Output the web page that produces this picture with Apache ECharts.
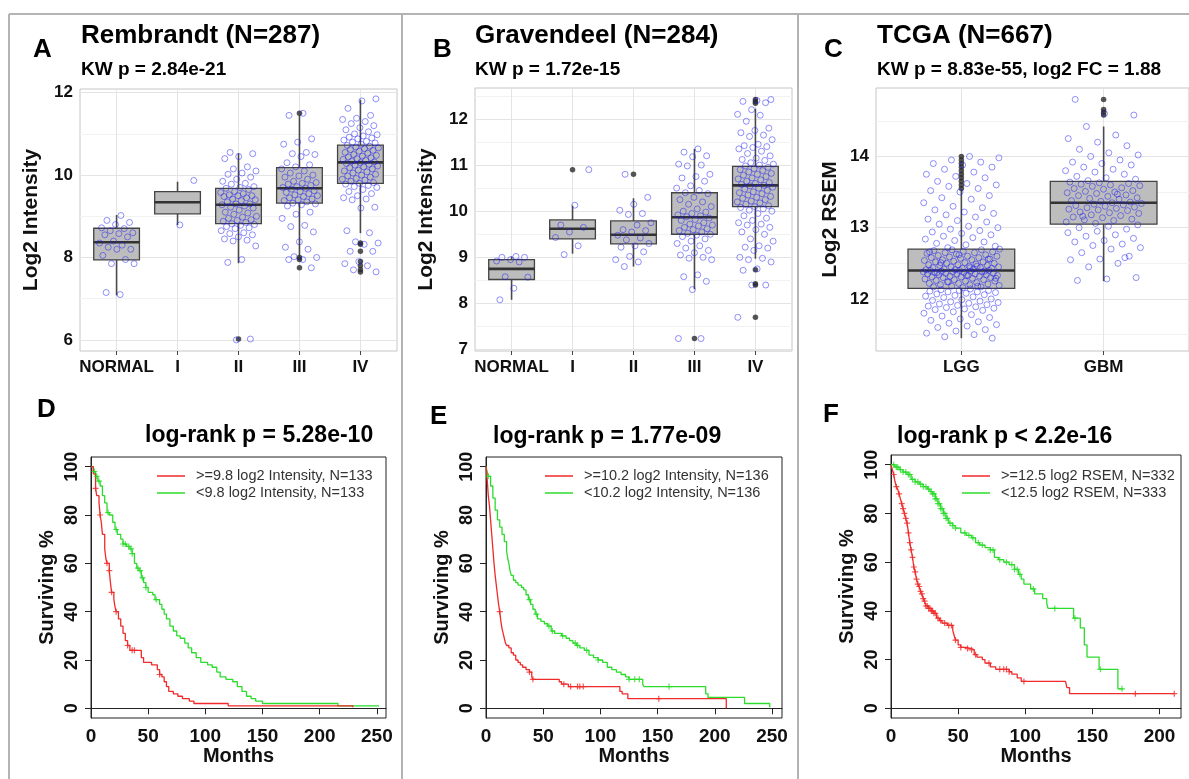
<!DOCTYPE html>
<html>
<head>
<meta charset="utf-8">
<title>Expression and survival</title>
<script src="https://cdn.jsdelivr.net/npm/echarts@6/dist/echarts.min.js"></script>
<style>
html, body { margin: 0; padding: 0; background: #fff; }
#main { width: 1189px; height: 779px; }
</style>
</head>
<body>
<div id="main"></div>
<script>
// ---------- 数据 ----------
var stageCats = ['NORMAL', 'I', 'II', 'III', 'IV'];
var tcgaCats = ['LGG', 'GBM'];

// 箱线 [下须, Q1, 中位数, Q3, 上须]
var remBox = [[7.08, 7.94, 8.37, 8.71, 9.03], [8.79, 9.06, 9.34, 9.60, 9.84], [7.86, 8.82, 9.28, 9.68, 10.53], [8.02, 9.32, 9.68, 10.18, 11.45], [8.59, 9.80, 10.31, 10.73, 11.83]];
var graBox = [[8.08, 8.52, 8.75, 8.95, 9.02], [9.08, 9.40, 9.62, 9.81, 10.12], [8.80, 9.29, 9.49, 9.79, 10.28], [8.31, 9.50, 9.87, 10.40, 11.35], [8.97, 10.10, 10.56, 10.97, 12.22]];
var tcgaBox = [[11.45, 12.15, 12.40, 12.70, 13.52], [12.25, 13.05, 13.35, 13.65, 14.42]];

// 离群点
var remOut = [[], [], [6.02], [11.5, 8.0, 7.95, 7.75], [8.35, 8.32, 8.15, 7.9, 7.8, 7.7, 7.65]];
var graOut = [[], [10.9], [10.8], [7.24], [12.42, 12.38, 12.34, 8.73, 8.43, 8.4, 7.7]];
var tcgaOut = [[13.55, 13.6, 13.65, 13.7, 13.75, 13.8, 13.85, 13.9, 13.95, 14.0], [14.58, 14.62, 14.66, 14.8]];

// 抖动散点
var remPts = [
  [9.02, 8.9, 8.85, 8.8, 8.72, 8.7, 8.65, 8.6, 8.58, 8.55, 8.5, 8.4, 8.35, 8.3, 8.25, 8.2, 8.2, 8.05, 7.95, 7.85, 7.85, 7.1, 7.15],
  [9.87, 8.79],
  [10.55, 10.52, 10.45, 10.4, 10.2, 10.15, 10.1, 10.05, 10.02, 9.95, 9.9, 9.85, 9.8, 9.78, 9.72, 9.7, 9.68, 9.65, 9.6, 9.58, 9.55, 9.52, 9.5, 9.5, 9.48, 9.45, 9.42, 9.4, 9.38, 9.35, 9.3, 9.3, 9.28, 9.25, 9.22, 9.2, 9.15, 9.1, 9.08, 9.05, 9.0, 8.98, 8.95, 8.92, 8.9, 8.88, 8.85, 8.82, 8.8, 8.78, 8.75, 8.72, 8.7, 8.65, 8.6, 8.58, 8.55, 8.5, 8.45, 8.42, 8.4, 8.28, 7.95, 7.88, 6.02, 6.0],
  [11.5, 11.45, 10.88, 10.8, 10.75, 10.55, 10.52, 10.5, 10.45, 10.3, 10.25, 10.2, 10.15, 10.1, 10.05, 10.0, 9.98, 9.95, 9.9, 9.85, 9.82, 9.8, 9.78, 9.75, 9.72, 9.7, 9.68, 9.66, 9.62, 9.6, 9.58, 9.55, 9.52, 9.5, 9.48, 9.45, 9.42, 9.4, 9.38, 9.35, 9.32, 9.3, 9.28, 9.25, 9.1, 9.05, 8.95, 8.78, 8.75, 8.62, 8.38, 8.25, 8.2, 8.02, 8.0, 7.95, 7.95, 7.75],
  [11.85, 11.8, 11.62, 11.45, 11.38, 11.35, 11.3, 11.25, 11.2, 11.15, 11.1, 11.05, 11.0, 10.98, 10.95, 10.92, 10.9, 10.88, 10.85, 10.82, 10.8, 10.78, 10.75, 10.72, 10.7, 10.68, 10.66, 10.64, 10.62, 10.6, 10.58, 10.55, 10.53, 10.5, 10.48, 10.46, 10.44, 10.42, 10.4, 10.38, 10.36, 10.34, 10.32, 10.3, 10.28, 10.26, 10.24, 10.22, 10.2, 10.18, 10.15, 10.12, 10.1, 10.08, 10.05, 10.02, 10.0, 9.98, 9.95, 9.92, 9.9, 9.88, 9.85, 9.82, 9.8, 9.78, 9.75, 9.72, 9.7, 9.65, 9.6, 9.55, 9.5, 9.45, 9.42, 9.4, 9.22, 9.2, 8.65, 8.6, 8.38, 8.35, 8.32, 8.15, 8.15, 7.9, 7.85, 7.8, 7.7, 7.65]
];
var graPts = [
  [9.02, 9.0, 9.0, 8.95, 8.92, 8.9, 8.58, 8.57, 8.33, 8.08],
  [10.9, 10.13, 9.7, 9.65, 9.55, 9.43, 9.25, 9.06],
  [10.8, 10.3, 10.15, 10.02, 9.95, 9.93, 9.75, 9.7, 9.6, 9.58, 9.55, 9.48, 9.42, 9.38, 9.3, 9.25, 9.22, 9.12, 9.02, 8.95, 8.9, 8.8],
  [11.35, 11.28, 11.2, 11.18, 11.02, 11.0, 10.98, 10.8, 10.75, 10.72, 10.65, 10.55, 10.5, 10.45, 10.4, 10.38, 10.3, 10.25, 10.2, 10.15, 10.1, 10.05, 10.0, 9.98, 9.95, 9.92, 9.9, 9.88, 9.85, 9.82, 9.8, 9.75, 9.72, 9.7, 9.68, 9.65, 9.62, 9.6, 9.58, 9.55, 9.52, 9.5, 9.48, 9.45, 9.4, 9.35, 9.3, 9.25, 9.2, 9.15, 9.1, 9.05, 9.0, 8.98, 8.95, 8.62, 8.58, 8.48, 8.3, 7.24, 7.24],
  [12.42, 12.4, 12.38, 12.35, 12.2, 12.1, 12.08, 11.95, 11.8, 11.75, 11.7, 11.65, 11.62, 11.55, 11.45, 11.42, 11.4, 11.38, 11.35, 11.3, 11.25, 11.2, 11.15, 11.12, 11.1, 11.05, 11.02, 11.0, 10.98, 10.95, 10.92, 10.9, 10.88, 10.85, 10.82, 10.8, 10.78, 10.75, 10.72, 10.7, 10.68, 10.65, 10.62, 10.6, 10.58, 10.56, 10.55, 10.52, 10.5, 10.48, 10.45, 10.42, 10.4, 10.38, 10.35, 10.32, 10.3, 10.28, 10.25, 10.22, 10.2, 10.18, 10.15, 10.12, 10.1, 10.08, 10.05, 10.02, 10.0, 9.95, 9.9, 9.85, 9.8, 9.75, 9.72, 9.7, 9.65, 9.6, 9.55, 9.5, 9.4, 9.35, 9.25, 9.22, 9.2, 9.15, 9.0, 8.98, 8.95, 8.9, 8.75, 8.72, 8.4, 8.4, 7.7]
];
var tcgaPts = [
  [12.14, 12.13, 12.12, 12.12, 12.11, 12.1, 12.1, 12.09, 12.08, 12.07, 12.06, 12.05, 12.04, 12.03, 12.02, 12.0, 11.99, 11.98, 11.97, 11.96, 11.95, 11.94, 11.93, 11.92, 11.91, 11.9, 11.89, 11.88, 11.87, 11.86, 11.85, 11.84, 11.82, 11.8, 11.78, 11.76, 11.74, 11.72, 11.7, 11.68, 11.66, 11.64, 11.62, 11.6, 11.57, 11.55, 11.52, 11.5, 11.47, 11.45,
   12.16, 12.17, 12.17, 12.18, 12.19, 12.2, 12.2, 12.21, 12.22, 12.22, 12.23, 12.24, 12.25, 12.25, 12.26, 12.27, 12.27, 12.28, 12.29, 12.3, 12.3, 12.31, 12.31, 12.32, 12.32, 12.33, 12.33, 12.34, 12.34, 12.35, 12.35, 12.35, 12.36, 12.36, 12.37, 12.37, 12.38, 12.38, 12.38, 12.39, 12.39, 12.4, 12.4, 12.4, 12.18, 12.24, 12.29, 12.33, 12.37, 12.39,
   12.41, 12.41, 12.42, 12.42, 12.43, 12.43, 12.44, 12.44, 12.45, 12.45, 12.46, 12.47, 12.47, 12.48, 12.48, 12.49, 12.5, 12.5, 12.51, 12.52, 12.52, 12.53, 12.54, 12.55, 12.55, 12.56, 12.57, 12.58, 12.58, 12.59, 12.6, 12.6, 12.61, 12.62, 12.63, 12.64, 12.65, 12.65, 12.66, 12.67, 12.68, 12.69, 12.69, 12.7, 12.44, 12.51, 12.56, 12.62, 12.66, 12.46,
   12.72, 12.74, 12.76, 12.78, 12.8, 12.82, 12.84, 12.86, 12.88, 12.9, 12.92, 12.94, 12.96, 12.98, 13.0, 13.02, 13.05, 13.08, 13.1, 13.12, 13.15, 13.18, 13.2, 13.22, 13.25, 13.28, 13.3, 13.35, 13.4, 13.42, 13.45, 13.5, 13.52, 13.55, 13.58, 13.6, 13.62, 13.65, 13.7, 13.72, 13.75, 13.78, 13.82, 13.85, 13.88, 13.9, 13.92, 13.95, 13.98, 14.0],
  [13.04, 13.02, 13.0, 12.98, 12.95, 12.93, 12.9, 12.88, 12.85, 12.82, 12.8, 12.77, 12.75, 12.72, 12.7, 12.65, 12.6, 12.56, 12.55, 12.5, 12.45, 12.3, 12.28, 12.26, 12.58,
   13.06, 13.08, 13.1, 13.11, 13.12, 13.14, 13.15, 13.17, 13.18, 13.2, 13.21, 13.22, 13.24, 13.25, 13.26, 13.27, 13.28, 13.29, 13.3, 13.31, 13.32, 13.33, 13.34, 13.35, 13.16,
   13.36, 13.37, 13.38, 13.4, 13.41, 13.42, 13.44, 13.45, 13.46, 13.48, 13.49, 13.5, 13.51, 13.52, 13.54, 13.55, 13.56, 13.58, 13.59, 13.6, 13.61, 13.62, 13.63, 13.64, 13.47,
   13.66, 13.68, 13.7, 13.72, 13.75, 13.78, 13.8, 13.82, 13.85, 13.88, 13.9, 13.92, 13.95, 14.0, 14.02, 14.05, 14.1, 14.15, 14.2, 14.25, 14.3, 14.42, 14.58, 14.6, 14.8]
];

var remTicks = [6, 8, 10, 12];
var graTicks = [7, 8, 9, 10, 11, 12];
var tcgaTicks = [12, 13, 14];
var monthTicks = [0, 50, 100, 150, 200, 250];
var monthTicksF = [0, 50, 100, 150, 200];
var survTicks = [0, 20, 40, 60, 80, 100];

// 生存曲线 [月, 生存%]
var dHigh = [[0, 100], [2, 97], [4, 91], [5, 88], [7, 85], [8, 80], [9, 77], [10, 72], [12, 66], [13, 62], [14, 60], [16, 57], [17, 52], [18, 48], [20, 45], [21, 42], [22, 40], [24, 37], [26, 34], [28, 31], [30, 28], [32, 26], [34, 24], [44, 21], [46, 19], [53, 18], [58, 16], [60, 14], [62, 13], [64, 11], [66, 9], [68, 7], [72, 6], [76, 5], [80, 4], [86, 3], [90, 2], [120, 1], [229, 1], [229, 0.4]];
var dLow = [[0, 100], [2, 98], [4, 96], [6, 94], [8, 92], [10, 88], [12, 85], [14, 81], [16, 80], [19, 77], [21, 74], [23, 72], [26, 70], [28, 68], [31, 67], [34, 66], [36, 64], [38, 60], [40, 58], [42, 57], [44, 54], [46, 52], [48, 50], [50, 48], [54, 47], [56, 45], [60, 43], [62, 41], [64, 39], [66, 37], [69, 34], [72, 32], [75, 30], [78, 29], [82, 27], [85, 25], [88, 23], [92, 21], [96, 19], [102, 18], [106, 17], [110, 15], [113, 13], [118, 12], [124, 11], [128, 9], [132, 7], [136, 5], [140, 4], [144, 3], [150, 2], [214, 2], [216, 1], [252, 1]];
var eHigh = [[0, 100], [1, 95], [2, 88], [3, 84], [4, 78], [5, 72], [6, 66], [7, 60], [8, 55], [9, 51], [10, 47], [11, 43], [12, 40], [13, 36], [14, 33], [15, 31], [16, 29], [17, 27], [18, 26], [20, 25], [22, 23], [24, 22], [26, 20], [28, 19], [30, 18], [32, 17], [35, 16], [38, 15], [40, 13], [41, 12], [64, 11], [66, 10], [72, 9], [117, 7], [119, 6], [124, 4], [210, 4], [210, 0]];
var eLow = [[0, 100], [1, 98], [2, 96], [4, 92], [6, 87], [8, 82], [10, 78], [12, 75], [14, 72], [16, 69], [18, 65], [19, 62], [20, 60], [21, 57], [22, 55], [24, 53], [26, 52], [28, 51], [31, 50], [33, 49], [35, 47], [37, 45], [39, 43], [41, 41], [43, 39], [45, 37], [48, 36], [51, 35], [54, 34], [57, 32], [60, 31], [66, 30], [70, 29], [73, 28], [76, 27], [79, 26], [82, 25], [86, 24], [90, 22], [94, 21], [98, 20], [102, 19], [106, 17], [110, 16], [114, 15], [118, 14], [122, 13], [125, 12], [137, 10], [138, 9], [190, 9], [192, 6], [194, 4.5], [224, 4.5], [226, 2], [248, 2], [248, 0.5]];
var fHigh = [[0, 100], [1, 98], [2, 96], [3, 93], [4, 91], [5, 90], [6, 88], [7, 86], [8, 84], [9, 82], [10, 80], [11, 78], [12, 76], [13, 72], [14, 68], [15, 65], [16, 62], [17, 58], [18, 56], [19, 53], [20, 51], [21, 50], [22, 48], [23, 47], [24, 45], [25, 44], [26, 42], [28, 41], [30, 40], [32, 39], [34, 37], [36, 36], [38, 35], [42, 34], [46, 32], [47, 30], [48, 28], [50, 26], [52, 25], [56, 24.5], [60, 24], [62, 22], [64, 21], [68, 20], [70, 18.5], [74, 17], [78, 16], [88, 15], [90, 14], [94, 12.5], [97, 11], [130, 11], [131, 8.5], [133, 6], [211, 6]];
var fLow = [[0, 100], [3, 99], [6, 98], [9, 97], [12, 96], [15, 94], [18, 93], [21, 92], [24, 91], [27, 90], [29, 89], [31, 88], [33, 86], [35, 84], [37, 82], [39, 80], [41, 78], [43, 76], [46, 75], [48, 74], [52, 72], [56, 71], [60, 70], [63, 68], [66, 67], [70, 66], [74, 65], [77, 62], [80, 61], [84, 60], [88, 59], [92, 57], [95, 55], [97, 53], [99, 51], [104, 49], [107, 47], [113, 45], [116, 43], [117, 41], [134, 41], [136, 37], [141, 33], [144, 26], [146, 21], [155, 16], [169, 8], [173, 8]];

// 删失时间
var dHighCens = [4, 8, 14, 16, 18, 22, 32, 36, 38, 60];
var dLowCens = [3, 5, 7, 15, 22, 28, 30, 33, 35, 36, 41, 43, 45, 48, 57];
var eHighCens = [12, 38, 41, 68, 74, 80, 82, 85, 151];
var eLowCens = [2, 38, 44, 55, 58, 67, 78, 80, 88, 98, 125, 130, 134, 160];
var fHighCens = [2, 4, 6, 8, 9, 10, 11, 12, 13, 14, 15, 16, 17, 18, 19, 20, 21, 22, 23, 24, 25, 26, 27, 28, 29, 30, 31, 32, 33, 35, 37, 40, 43, 45, 48, 52, 57, 60, 63, 73, 81, 84, 86, 88, 99, 182, 211];
var fLowCens = [2, 4, 5, 7, 9, 11, 13, 14, 16, 18, 20, 22, 24, 26, 28, 30, 31, 32, 33, 34, 35, 36, 37, 38, 39, 40, 41, 42, 44, 46, 48, 55, 58, 61, 65, 68, 74, 76, 81, 86, 90, 92, 94, 96, 106, 122, 137, 156, 172];

// ---------- 工具 ----------
var FONT = '"Liberation Sans", Arial, Helvetica, sans-serif';
var RED = '#f02a2a';
var GREEN = '#2cdc2c';

// 抖动偏移（只影响水平位置）
function jitter(i, w) {
    var f = ((i + 1) * 0.6180339887) % 1;
    return (f - 0.5) * 2 * w;
}
function jitterData(groups, w) {
    var out = [];
    groups.forEach(function (vals, g) {
        vals.forEach(function (v, i) {
            out.push([g + jitter(i + g * 7, w), v]);
        });
    });
    return out;
}
function outlierData(groups) {
    var out = [];
    groups.forEach(function (vals, g) {
        vals.forEach(function (v) { out.push([g, v]); });
    });
    return out;
}
// KM 曲线在某一时刻的取值（阶梯函数）
function stepAt(curve, t) {
    var s = curve[0][1];
    for (var i = 0; i < curve.length; i++) {
        if (curve[i][0] <= t) s = curve[i][1];
    }
    return s;
}
function censorData(curve, times) {
    return times.map(function (t) { return [t, stepAt(curve, t)]; });
}

// 箱体绘制
function renderBox(params, api) {
    var x = api.value(0);
    var pLo = api.coord([x, api.value(1)]);
    var pQ1 = api.coord([x, api.value(2)]);
    var pMed = api.coord([x, api.value(3)]);
    var pQ3 = api.coord([x, api.value(4)]);
    var pHi = api.coord([x, api.value(5)]);
    var half = (api.coord([x + 0.375, api.value(3)])[0] - api.coord([x - 0.375, api.value(3)])[0]) / 2;
    return {
        type: 'group',
        children: [
            { type: 'line', shape: { x1: pLo[0], y1: pLo[1], x2: pHi[0], y2: pHi[1] }, style: { stroke: '#4a4a4a', lineWidth: 1.6 } },
            { type: 'rect', shape: { x: pQ3[0] - half, y: pQ3[1], width: half * 2, height: pQ1[1] - pQ3[1] }, style: { fill: '#bdbdbd', stroke: '#444', lineWidth: 1.3 } },
            { type: 'line', shape: { x1: pMed[0] - half, y1: pMed[1], x2: pMed[0] + half, y2: pMed[1] }, style: { stroke: '#333', lineWidth: 2.6 } }
        ]
    };
}

// 网格线（ggplot 风格）
function gridLineData(ticks, yMin, yMax, nCat) {
    var d = [];
    var step = ticks[1] - ticks[0];
    ticks.forEach(function (t) {
        d.push({ yAxis: t, lineStyle: { color: '#e4e4e4', width: 1, type: 'solid' } });
    });
    var mids = ticks.map(function (t) { return t - step / 2; }).concat([ticks[ticks.length - 1] + step / 2]);
    mids.forEach(function (m) {
        if (m > yMin && m < yMax) d.push({ yAxis: m, lineStyle: { color: '#f2f2f2', width: 1, type: 'solid' } });
    });
    for (var i = 0; i < nCat; i++) {
        d.push({ xAxis: i, lineStyle: { color: '#e4e4e4', width: 1, type: 'solid' } });
    }
    return d;
}

// ---------- 布局 ----------
var boxPanels = [
    { grid: { left: 80, top: 89, width: 317, height: 262 }, cats: stageCats, yMin: 5.73, yMax: 12.09, ticks: remTicks, box: remBox, pts: remPts, out: remOut, name: 'Log2 Intensity', nameGap: 38, jw: 0.3 },
    { grid: { left: 475, top: 88, width: 317, height: 263 }, cats: stageCats, yMin: 6.97, yMax: 12.67, ticks: graTicks, box: graBox, pts: graPts, out: graOut, name: 'Log2 Intensity', nameGap: 38, jw: 0.3 },
    { grid: { left: 876, top: 88, width: 318, height: 263 }, cats: tcgaCats, yMin: 11.27, yMax: 14.96, ticks: tcgaTicks, box: tcgaBox, pts: tcgaPts, out: tcgaOut, name: 'Log2 RSEM', nameGap: 35, jw: 0.27 }
];
var kmPanels = [
    { grid: { left: 91, top: 457, width: 295, height: 261 }, xMax: 258, xTicks: monthTicks, high: dHigh, low: dLow, highC: dHighCens, lowC: dLowCens,
      names: ['>=9.8 log2 Intensity, N=133', '<9.8 log2 Intensity, N=133'], legendLeft: 157 },
    { grid: { left: 486, top: 457, width: 296, height: 261 }, xMax: 258.7, xTicks: monthTicks, high: eHigh, low: eLow, highC: eHighCens, lowC: eLowCens,
      names: ['>=10.2 log2 Intensity, N=136', '<10.2 log2 Intensity, N=136'], legendLeft: 545 },
    { grid: { left: 891, top: 455, width: 290, height: 263 }, xMax: 216, xTicks: monthTicksF, high: fHigh, low: fLow, highC: fHighCens, lowC: fLowCens,
      names: ['>=12.5 log2 RSEM, N=332', '<12.5 log2 RSEM, N=333'], legendLeft: 962 }
];

var grids = [], xAxes = [], yAxes = [], series = [], legends = [];

boxPanels.forEach(function (p, k) {
    grids.push(Object.assign({ show: true, borderColor: '#c6c6c6', borderWidth: 1, backgroundColor: 'transparent' }, p.grid));
    var catIdx = p.cats.map(function (c, i) { return i; });
    xAxes.push({
        gridIndex: k, type: 'value', min: -0.6, max: p.cats.length - 0.4,
        axisLine: { show: false },
        splitLine: { show: false },
        axisTick: { show: true, customValues: catIdx, length: 4, lineStyle: { color: '#444' } },
        axisLabel: {
            customValues: catIdx, margin: 8, fontSize: 17, fontWeight: 'bold', color: '#111', fontFamily: FONT,
            formatter: function (v) { return p.cats[Math.round(v)]; }
        }
    });
    yAxes.push({
        gridIndex: k, type: 'value', min: p.yMin, max: p.yMax,
        axisLine: { show: false },
        splitLine: { show: false },
        axisTick: { show: true, customValues: p.ticks, length: 4, lineStyle: { color: '#444' } },
        axisLabel: { customValues: p.ticks, margin: 7, fontSize: 17, fontWeight: 'bold', color: '#111', fontFamily: FONT },
        name: p.name, nameLocation: 'middle', nameGap: p.nameGap, nameRotate: 90,
        nameTextStyle: { fontSize: 21, fontWeight: 'bold', color: '#111', fontFamily: FONT }
    });
    // 网格线，放在最底层
    series.push({
        type: 'scatter', xAxisIndex: k, yAxisIndex: k, data: [], z: 1, silent: true,
        markLine: { silent: true, z: 1, symbol: 'none', label: { show: false }, animation: false, data: gridLineData(p.ticks, p.yMin, p.yMax, p.cats.length) }
    });
    series.push({
        type: 'custom', xAxisIndex: k, yAxisIndex: k, z: 2, renderItem: renderBox,
        encode: { x: 0, y: [1, 2, 3, 4, 5] },
        data: p.box.map(function (b, i) { return [i].concat(b); })
    });
    series.push({
        type: 'scatter', xAxisIndex: k, yAxisIndex: k, z: 3, symbol: 'circle', symbolSize: 5.5,
        itemStyle: { color: '#2a2a2a' },
        data: outlierData(p.out)
    });
    series.push({
        type: 'scatter', xAxisIndex: k, yAxisIndex: k, z: 4, symbol: 'circle', symbolSize: 6,
        itemStyle: { color: 'rgba(0,0,0,0)', borderColor: 'rgba(25,25,245,0.6)', borderWidth: 1 },
        data: jitterData(p.pts, p.jw)
    });
});

var PLUS = 'path://M4,0h2v10h-2zM0,4h10v2h-10z';
kmPanels.forEach(function (p, j) {
    var k = j + 3;
    grids.push(Object.assign({ show: true, borderColor: '#222', borderWidth: 1, backgroundColor: 'transparent' }, p.grid));
    xAxes.push({
        gridIndex: k, type: 'value', min: 0, max: p.xMax,
        axisLine: { show: true, lineStyle: { color: '#222' } },
        splitLine: { show: false },
        axisTick: { show: true, customValues: p.xTicks, length: 6, lineStyle: { color: '#222' } },
        axisLabel: { customValues: p.xTicks, margin: 9, fontSize: 19, fontWeight: 'bold', color: '#111', fontFamily: FONT },
        name: 'Months', nameLocation: 'middle', nameGap: 27,
        nameTextStyle: { fontSize: 20, fontWeight: 'bold', color: '#111', fontFamily: FONT }
    });
    yAxes.push({
        gridIndex: k, type: 'value', min: -4, max: 104,
        axisLine: { show: true, lineStyle: { color: '#222' } },
        splitLine: { show: false },
        axisTick: { show: true, customValues: survTicks, length: 6, lineStyle: { color: '#222' } },
        axisLabel: { customValues: survTicks, rotate: 90, margin: 10, fontSize: 18, fontWeight: 'bold', color: '#111', fontFamily: FONT },
        name: 'Surviving %', nameLocation: 'middle', nameGap: 34, nameRotate: 90,
        nameTextStyle: { fontSize: 20, fontWeight: 'bold', color: '#111', fontFamily: FONT }
    });
    series.push({
        name: p.names[0], type: 'line', step: 'end', xAxisIndex: k, yAxisIndex: k, symbol: 'none',
        color: RED, lineStyle: { color: RED, width: 1.3 }, data: p.high, z: 3
    });
    series.push({
        name: p.names[1], type: 'line', step: 'end', xAxisIndex: k, yAxisIndex: k, symbol: 'none',
        color: GREEN, lineStyle: { color: GREEN, width: 1.3 }, data: p.low, z: 2
    });
    series.push({
        type: 'scatter', xAxisIndex: k, yAxisIndex: k, symbol: PLUS, symbolSize: 6, z: 4,
        itemStyle: { color: RED }, data: censorData(p.high, p.highC)
    });
    series.push({
        type: 'scatter', xAxisIndex: k, yAxisIndex: k, symbol: PLUS, symbolSize: 6, z: 3,
        itemStyle: { color: GREEN }, data: censorData(p.low, p.lowC)
    });
    legends.push({
        data: p.names, left: p.legendLeft, top: 468, orient: 'vertical', padding: 0,
        icon: 'rect', itemWidth: 28, itemHeight: 1.5, itemGap: 1, selectedMode: false,
        textStyle: { fontSize: 14.5, color: '#333', fontFamily: FONT, lineHeight: 16, padding: [0, 0, 0, 6] }
    });
});

// 标题
function t(text, left, top, size) {
    return { text: text, left: left, top: top, padding: 0, textStyle: { fontSize: size, fontWeight: 'bold', color: '#000', fontFamily: FONT } };
}
var titles = [
    t('A', 33, 37, 26), t('Rembrandt (N=287)', 81, 23, 26), t('KW p = 2.84e-21', 81, 60, 19),
    t('B', 433, 37, 26), t('Gravendeel (N=284)', 475, 23, 26), t('KW p = 1.72e-15', 475, 60, 19),
    t('C', 824, 37, 26), t('TCGA (N=667)', 877, 23, 26), t('KW p = 8.83e-55, log2 FC = 1.88', 877, 60, 19),
    t('D', 37, 397, 26), t('log-rank p = 5.28e-10', 145, 424, 23),
    t('E', 430, 404, 26), t('log-rank p = 1.77e-09', 493, 425, 23),
    t('F', 823, 402, 26), t('log-rank p < 2.2e-16', 897, 425, 23)
];

// 面板分隔线
var frameStyle = { stroke: '#b4b4b4', lineWidth: 2 };
var frames = [
    { type: 'line', shape: { x1: 9, y1: 14, x2: 1189, y2: 14 }, style: frameStyle },
    { type: 'line', shape: { x1: 9, y1: 14, x2: 9, y2: 779 }, style: frameStyle },
    { type: 'line', shape: { x1: 402, y1: 14, x2: 402, y2: 779 }, style: frameStyle },
    { type: 'line', shape: { x1: 798, y1: 14, x2: 798, y2: 779 }, style: frameStyle }
];

var myChart = echarts.init(document.getElementById('main'));
var option = {
    backgroundColor: '#fff',
    animation: false,
    title: titles,
    legend: legends,
    grid: grids,
    xAxis: xAxes,
    yAxis: yAxes,
    series: series,
    graphic: frames
};
myChart.setOption(option);
window.addEventListener('resize', function () {
    myChart.resize();
});
</script>
</body>
</html>
